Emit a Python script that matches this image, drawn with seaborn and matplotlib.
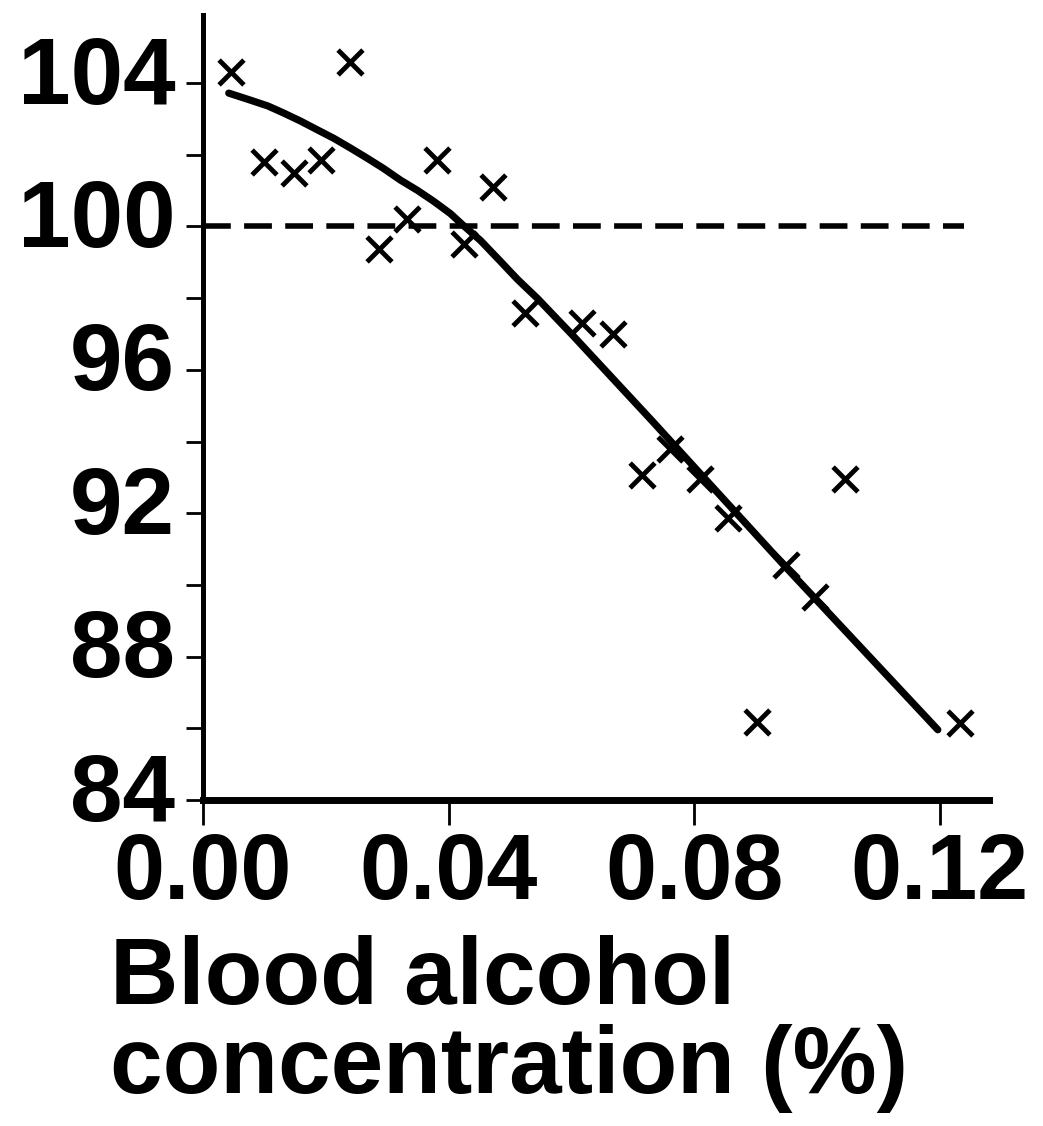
import matplotlib
matplotlib.use("Agg")
import matplotlib.pyplot as plt
import matplotlib.transforms as mtransforms
import numpy as np
import pandas as pd
import seaborn as sns
from matplotlib.ticker import MultipleLocator

# measured points (blood alcohol %, performance %)
bac = [0.0046, 0.0099, 0.0148, 0.0193, 0.0239, 0.0286, 0.0332, 0.0382, 0.0426, 0.0473, 0.0524,
       0.0618, 0.0668, 0.0715, 0.0761, 0.0810, 0.0855, 0.0902, 0.0950, 0.0997, 0.1046, 0.1233]
perf = [104.3, 101.8, 101.5, 101.85, 104.6, 99.36, 100.2, 101.85, 99.5, 101.1, 97.6,
        97.3, 97.0, 93.06, 93.8, 92.95, 91.86, 86.18, 90.55, 89.65, 92.95, 86.15]

# fitted curve
fit_x = [0.0042, 0.0078, 0.0106, 0.0132, 0.0159, 0.0187, 0.0213, 0.0241, 0.0268, 0.0294,
         0.0322, 0.0350, 0.0376, 0.0403, 0.0424, 0.0452, 0.0485, 0.0512, 0.0545, 0.0603,
         0.0668, 0.0733, 0.0789, 0.0948, 0.1197]
fit_y = [103.72, 103.52, 103.36, 103.16, 102.94, 102.69, 102.46, 102.18, 101.90, 101.62,
         101.29, 101.00, 100.70, 100.36, 100.03, 99.61, 99.02, 98.53, 97.99, 96.95,
         95.75, 94.55, 93.50, 90.52, 85.96]

baseline = 100
baseline_end = 0.124

df = pd.DataFrame({"bac": bac, "perf": perf})
fit = pd.DataFrame({"x": fit_x, "y": fit_y})

sns.set_theme(style="ticks")
plt.rcParams["font.family"] = ["Liberation Sans", "DejaVu Sans"]
plt.rcParams["font.weight"] = "bold"
plt.rcParams["text.color"] = "black"
plt.rcParams["xtick.color"] = "black"
plt.rcParams["ytick.color"] = "black"

fig = plt.figure(figsize=(10.43, 11.26), dpi=100)
ax = fig.add_axes([0.1946, 0.2895, 0.7534, 0.6972])

ax.hlines(baseline, 0, baseline_end, colors="black", linestyles=(0, (5.0, 2.4)), linewidth=4.0)
sns.lineplot(data=fit, x="x", y="y", ax=ax, color="black", linewidth=5.2, sort=False)
sns.scatterplot(data=df, x="bac", y="perf", ax=ax, marker="x", color="black",
                s=320, linewidth=3.5, zorder=5)

ax.set_xlim(0, 0.128)
ax.set_ylim(84, 105.9)
ax.set_xticks([0.00, 0.04, 0.08, 0.12])
ax.set_xticklabels(["0.00", "0.04", "0.08", "0.12"])
ax.set_yticks([84, 88, 92, 96, 100, 104])
ax.yaxis.set_minor_locator(MultipleLocator(2))

for s in ["top", "right"]:
    ax.spines[s].set_visible(False)
ax.spines["left"].set_linewidth(3.6)
ax.spines["bottom"].set_linewidth(5)
ax.spines["left"].set_color("black")
ax.spines["bottom"].set_color("black")

ax.tick_params(axis="y", which="both", length=12, width=2, color="black", direction="out",
               pad=8, labelsize=68, labelcolor="black")
ax.tick_params(axis="x", which="major", length=18, width=2, color="black", direction="out",
               pad=5, labelsize=66, labelcolor="black")

# y labels sit a little above their ticks in the original
lift = mtransforms.ScaledTranslation(0, 10 / 72, fig.dpi_scale_trans)
for lab in ax.get_yticklabels():
    lab.set_fontweight("bold")
    lab.set_transform(lab.get_transform() + lift)
for lab in ax.get_xticklabels():
    lab.set_fontweight("bold")

ax.set_xlabel("Blood alcohol\nconcentration (%)", fontsize=68, fontweight="bold",
              color="black", linespacing=1.0)
ax.xaxis.set_label_coords(-0.118, -0.172)
ax.xaxis.label.set_horizontalalignment("left")
ax.xaxis.label.set_verticalalignment("top")
ax.set_ylabel("")

fig.savefig("out.png", dpi=100)
